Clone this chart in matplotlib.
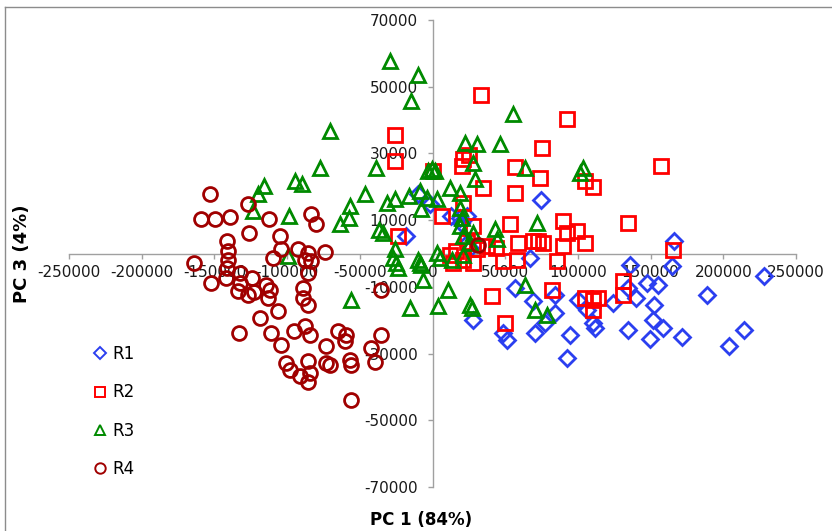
import matplotlib
matplotlib.use("Agg")
import matplotlib.pyplot as plt
from matplotlib.lines import Line2D

plt.rcParams['font.family'] = ['DejaVu Sans']

# ---- data (PC1, PC3) ----
r1_x = [74500, -9900, -1900, -17900, 12500, 18800, 23400, 19800, 23500, 25700, 67000, 56700, 28000,
        48600, 51000, 70400, 69300, 77300, 84200, 84200, 94500, 100300, 106000, 110600, 111800,
        124400, 134700, 135500, 92300, 166200, 164600, 227700, 188700, 140000, 134700, 147400,
        155400, 152400, 151900, 158800, 149600, 171500, 203600, 213900]
r1_y = [16000, 17700, 14700, 5200, 11200, 10700, 11200, 9200, 3100, 1700, -1300, -10300, -19800,
        -23800, -25800, -23800, -14300, -20800, -17800, -12300, -24300, -13800, -16800, -20800, -22300,
        -14800, -22800, -3300, -31300, 3700, -3800, -6800, -12300, -13300, -10300, -8800,
        -9300, -15300, -19800, -22300, -25600, -25000, -27600, -22800]

r2_x = [33700, 92300, 75500, 25200, 21100, 20000, 56700, 73900, 34800, 56700, 104900, 110200,
        134700, 6200, 21100, 53200, 89900, 92300, 99200, 104900, 89900, 58900, 69300, 72700, 76200,
        57800, 48600, 85400, 28000, 28000, 40600, 81900, 49800, 104900, 110600, 114100, 110600,
        131300, 131300, 157000, 165700, -25500, -25500, -23600, 400, 37200, 30300, 16500, 11900,
        21100, 14200, 24000, 44000]
r2_y = [47400, 40400, 31700, 29400, 28200, 26200, 25900, 22700, 19700, 18200, 21700, 19900,
        9000, 11200, 15200, 8700, 9700, 6200, 6700, 3200, 2200, 3200, 3700, 3700, 3200,
        -1800, -2300, -2300, 8200, -2800, -12800, -10800, -20800, -13300, -13800, -13300, -16800,
        -8300, -12300, 26200, 900, 35400, 27700, 5200, 24700, 2200, 1200, 700, -300,
        -1800, -2800, 3500, 1500]

r3_x = [-29400, -10300, -14900, -70700, 55500, 22200, 30300, 46300, -77600, -38600, -3000, -500,
        1800, 28000, 29100, 63600, 103700, 101400, -94800, -89800, -116200, -120100, -123300,
        -99000, -57000, -57400, -63800, -46100, -31300, -36800, -34200, -25800, -16000, -8700,
        -4100, 2800, 11900, 18800, 18800, 20000, 71600, 42900, 44100, 18800, 21100, 28000, 25700,
        2800, 5000, 21100, 13100, -8700, -6500, 10700, 3900, 25700, 26900, 63600, 70400, 78500,
        -99400, -26000, -27100, -24800, -23700, -9900, -7600, -55800, -15600, -7600]
r3_y = [57700, 53400, 45700, 36700, 41700, 33200, 32700, 32700, 25700, 25700, 24700, 25200,
        24700, 27200, 22200, 25700, 25700, 24200, 21700, 20700, 20200, 17700, 12700,
        11200, 14200, 10700, 8700, 17700, 15200, 7100, 6100, 16300, 17300, 18700,
        16700, 16200, 19700, 18200, 13700, 10700, 9200, 7200, 4200, 8200, 5200, 6200, 3200,
        200, -1300, -300, -1800, -2800, -7800, -10800, -15800, -15300, -16300, -9300, -16800, -18300,
        -800, 1200, -1300, -2800, -4300, -1800, -3300, -13800, -16300, 13200]

r4_x = [-152700, -159100, -149900, -139600, -127000, -126500, -112500, -105200, -141200, -140700,
        -140700, -141200, -164200, -152200, -142300, -132700, -132700, -124000, -133900, -127000,
        -109800, -104000, -114300, -112000, -113200, -106300, -118400, -133200, -110900, -104500,
        -95500, -100500, -98300, -92500, -85700, -74200, -87900, -83300, -85700, -89100, -89100,
        -85700, -87900, -84500, -65000, -59200, -60400, -73000, -35100, -42000, -39700, -91400,
        -85700, -84500, -85700, -73000, -70700, -57000, -55800, -55800, -35100, -83300, -79900,
        31000, -122700]
r4_y = [17700, 10400, 10200, 10900, 14700, 6200, 10200, 5200, 3700, 700,
        -1800, -4300, -2800, -8800, -7300, -5800, -8800, -7300, -11300, -12300,
        -1300, 1200, -9300, -10800, -13300, -17300, -19300, -23800, -23800, -27300,
        -23100, -32800, -34800, 1200, 200, 400, -1800, -2300, -5800, -10300, -13300,
        -15300, -21800, -24300, -23300, -24300, -26300, -27800, -24300, -28300, -32600, -36800,
        -38600, -35800, -32300, -32800, -33300, -31800, -33300, -43800, -10800, 11700, 8700,
        2500, -11400]

series = ["R1", "R2", "R3", "R4"]
x_ticks = [-250000, -200000, -150000, -100000, -50000, 0, 50000, 100000, 150000, 200000, 250000]
y_ticks = [70000, 50000, 30000, 10000, -10000, -30000, -50000, -70000]

colors = ['#2b3ff0', '#ff0000', '#008a00', '#a00000']
markers = ['D', 's', '^', 'o']
msizes = [7.8, 10.2, 9.8, 10.0]

fig = plt.figure(figsize=(8.32, 5.31), dpi=100)
ax = fig.add_axes([69 / 832, 44 / 531, 727 / 832, 467 / 531])

data = [(r1_x, r1_y), (r2_x, r2_y), (r3_x, r3_y), (r4_x, r4_y)]
for (xs, ys), lab, c, m, ms in zip(data, series, colors, markers, msizes):
    ax.plot(xs, ys, linestyle='none', marker=m, markersize=ms, markerfacecolor='none',
            markeredgecolor=c, markeredgewidth=2.0, label=lab)

ax.set_xlim(-250000, 250000)
ax.set_ylim(-70000, 70000)
for s in ['top', 'right']:
    ax.spines[s].set_visible(False)
ax.spines['left'].set_position(('data', 0))
ax.spines['bottom'].set_position(('data', 0))
for s in ['left', 'bottom']:
    ax.spines[s].set_color('#a0a0a0')
    ax.spines[s].set_linewidth(1.0)
    ax.spines[s].set_zorder(0.5)

ax.set_xticks(x_ticks)
ax.set_xticklabels([str(v) for v in x_ticks])
ax.set_yticks(y_ticks)
ax.set_yticklabels([str(v) for v in y_ticks])
ax.tick_params(axis='both', direction='out', length=3.6, width=1.0, color='#a0a0a0',
               labelsize=11, labelcolor='#1a1a1a')
ax.tick_params(axis='x', pad=5)
ax.tick_params(axis='y', pad=7)

leg_handles = [Line2D([0], [0], linestyle='none', marker=m, markersize=ms * 0.75,
                      markerfacecolor='none', markeredgecolor=c, markeredgewidth=1.4)
               for c, m, ms in zip(colors, markers, msizes)]
fig.legend(leg_handles, series, loc='upper left', bbox_to_anchor=(93 / 832, 1 - 345 / 531),
           frameon=False, fontsize=12, handlelength=0.8, handletextpad=0.35,
           labelspacing=1.22, borderpad=0, borderaxespad=0)

fig.text(421 / 832, 1 - 520 / 531, "PC 1 (84%)", ha='center', va='center',
         fontsize=12, fontweight='bold')
fig.text(22 / 832, 1 - 254 / 531, "PC 3 (4%)", ha='center', va='center', rotation=90,
         fontsize=13, fontweight='bold')

# outer frame
fig.add_artist(Line2D([5 / 832, 1], [1 - 7 / 531, 1 - 7 / 531], transform=fig.transFigure,
                      color='#8c8c8c', linewidth=1.0))
fig.add_artist(Line2D([5 / 832, 5 / 832], [0, 1 - 7 / 531], transform=fig.transFigure,
                      color='#8c8c8c', linewidth=1.0))

fig.savefig("out.png", dpi=100)
